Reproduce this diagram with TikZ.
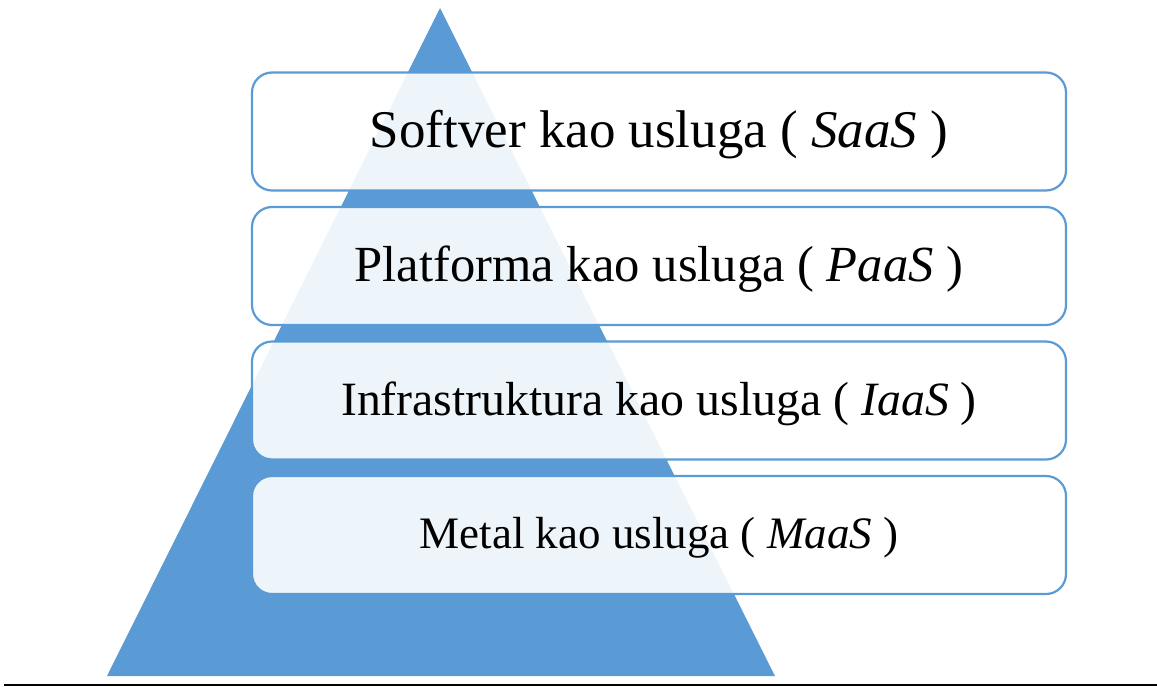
\documentclass[tikz,border=0pt]{standalone}
\usepackage{fontspec}
\setmainfont{Liberation Serif}
\definecolor{piramida}{HTML}{5B9BD5}
\newcommand{\nivo}[1]{\raisebox{-1.6pt}[\height][\depth]{#1}}
\tikzset{layerbox/.style={draw=piramida,line width=1.1pt,fill=white,fill opacity=.9,text opacity=1,rounded corners=10pt,minimum width=407pt,minimum height=59pt,inner sep=0pt}}
\begin{document}
\begin{tikzpicture}[x=0.5pt,y=-0.5pt]
    \useasboundingbox (0,0) rectangle (1157,686);
    \fill[piramida] (440,8) -- (775,676) -- (107,676) -- cycle;
    \node[layerbox,font=\fontsize{26.5}{30}\selectfont] (saas) at (659,131.5) {\nivo{Softver kao usluga ( \textit{SaaS} )}};
    \node[layerbox,font=\fontsize{25.3}{29}\selectfont] (paas) at (659,266) {\nivo{Platforma kao usluga ( \textit{PaaS} )}};
    \node[layerbox,font=\fontsize{23.9}{28}\selectfont] (iaas) at (659,400.5) {\nivo{Infrastruktura kao usluga ( \textit{IaaS} )}};
    \node[layerbox,font=\fontsize{22.5}{27}\selectfont] (maas) at (659,535) {\nivo{Metal kao usluga ( \textit{MaaS} )}};
    \draw[line width=0.9pt] (4,685) -- (1157,685);
\end{tikzpicture}
\end{document}
